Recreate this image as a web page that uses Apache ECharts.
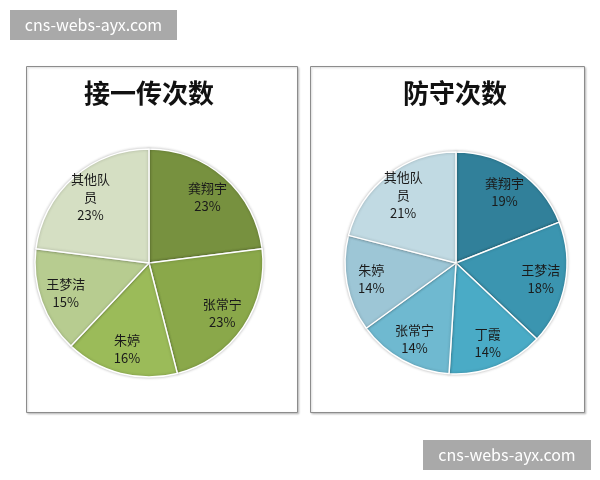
<!DOCTYPE html>
<html>
<head>
<meta charset="utf-8">
<script src="https://cdn.jsdelivr.net/npm/echarts@6/dist/echarts.min.js"></script>
<style>
html,body{margin:0;padding:0;background:#fff;}
#main{width:600px;height:480px;}
</style>
</head>
<body>
<div id="main"></div>
<script>
const titleLeft = '接一传次数';
const titleRight = '防守次数';
const receiveNames = ['龚翔宇', '张常宁', '朱婷', '王梦洁', '其他队员'];
const receiveValues = [23, 23, 16, 15, 23];
const receiveColors = ['#77913f', '#8aa84a', '#9bbb59', '#b7cc90', '#d5dfc3'];
const defenseNames = ['龚翔宇', '王梦洁', '丁霞', '张常宁', '朱婷', '其他队员'];
const defenseValues = [19, 18, 14, 14, 14, 21];
const defenseColors = ['#31809a', '#3b95b0', '#4aabc6', '#6fb9d0', '#9dc6d6', '#c1dae3'];
const watermarkText = 'cns-webs-ayx.com';

const FONT = '"Noto Sans CJK SC", "Noto Sans", sans-serif';

function wrapName(n) {
  return n.length > 3 ? n.slice(0, 3) + '\n' + n.slice(3) : n;
}

function pieSeries(names, values, colors, center, r) {
  const data = names.map((n, i) => ({ name: n, value: values[i], itemStyle: { color: colors[i] } }));
  const labelData = names.map((n, i) => ({ name: n, value: values[i] }));
  return [
    {
      type: 'pie',
      center: center,
      radius: [0, r],
      startAngle: 90,
      clockwise: true,
      animation: false,
      silent: true,
      label: { show: false },
      labelLine: { show: false },
      itemStyle: { borderColor: '#ffffff', borderWidth: 1.5, shadowColor: 'rgba(0,0,0,0.25)', shadowBlur: 3 },
      data: data
    },
    {
      type: 'pie',
      center: center,
      radius: [r * 0.5, r],
      startAngle: 90,
      clockwise: true,
      animation: false,
      silent: true,
      itemStyle: { color: 'rgba(0,0,0,0)', borderWidth: 0 },
      labelLine: { show: false },
      label: {
        show: true,
        position: 'inside',
        color: '#1a1a1a',
        fontFamily: FONT,
        fontSize: 13,
        lineHeight: 18,
        formatter: p => wrapName(p.name) + '\n' + Math.round(p.percent) + '%'
      },
      data: labelData
    }
  ];
}

const chart = echarts.init(document.getElementById('main'), null, { renderer: 'canvas' });
chart.setOption({
  backgroundColor: '#ffffff',
  animation: false,
  graphic: [
    { type: 'rect', z: -1, shape: { x: 26.5, y: 66.5, width: 271, height: 346 }, style: { fill: '#fff', stroke: '#8c8c8c', lineWidth: 1, shadowColor: 'rgba(0,0,0,0.2)', shadowBlur: 2, shadowOffsetX: 1, shadowOffsetY: 1 } },
    { type: 'rect', z: -1, shape: { x: 310.5, y: 66.5, width: 274, height: 346 }, style: { fill: '#fff', stroke: '#8c8c8c', lineWidth: 1, shadowColor: 'rgba(0,0,0,0.2)', shadowBlur: 2, shadowOffsetX: 1, shadowOffsetY: 1 } },
    { type: 'text', x: 149, y: 93, style: { text: titleLeft, textAlign: 'center', textVerticalAlign: 'middle', font: 'bold 26px ' + FONT, fill: '#111' } },
    { type: 'text', x: 455, y: 93, style: { text: titleRight, textAlign: 'center', textVerticalAlign: 'middle', font: 'bold 26px ' + FONT, fill: '#111' } },
    { type: 'rect', shape: { x: 10, y: 10, width: 167, height: 30 }, style: { fill: '#a9a9a9' } },
    { type: 'text', x: 93.5, y: 25, style: { text: watermarkText, textAlign: 'center', textVerticalAlign: 'middle', font: '16px ' + FONT, fill: '#ffffff' } },
    { type: 'rect', shape: { x: 423, y: 440, width: 168, height: 30 }, style: { fill: '#a9a9a9' } },
    { type: 'text', x: 507, y: 455, style: { text: watermarkText, textAlign: 'center', textVerticalAlign: 'middle', font: '16px ' + FONT, fill: '#ffffff' } }
  ],
  series: [
    ...pieSeries(receiveNames, receiveValues, receiveColors, [149, 263], 114),
    ...pieSeries(defenseNames, defenseValues, defenseColors, [456, 263], 111)
  ]
});
</script>
</body>
</html>
